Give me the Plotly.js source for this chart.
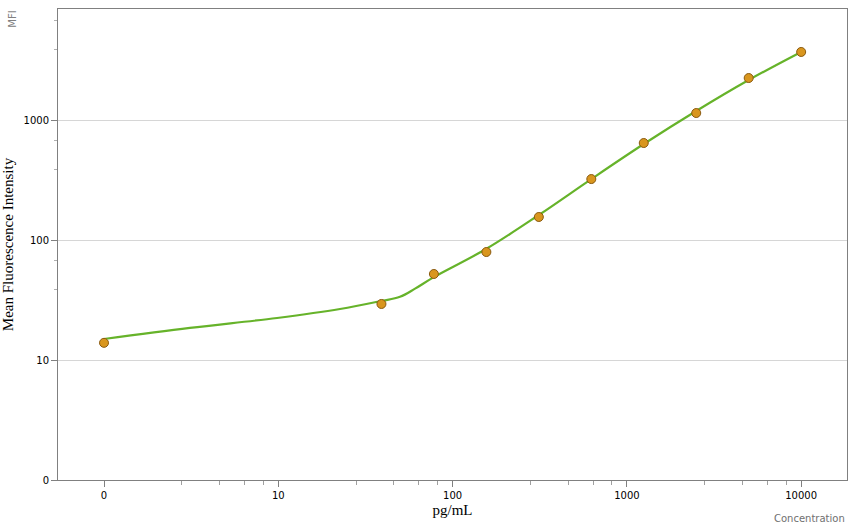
<!DOCTYPE html>
<html>
<head>
<meta charset="utf-8">
<script src="https://cdn.plot.ly/plotly-3.0.1.min.js"></script>
<style>html,body{margin:0;padding:0;background:#fff;}#chart{width:855px;height:527px;}</style>
</head>
<body>
<div id="chart"></div>
<script>
// Standards (concentration 0 is drawn at the "0" position, value 1 on the log axis)
const standardConc = [1, 39.0625, 78.125, 156.25, 312.5, 625, 1250, 2500, 5000, 10000];
const standardMFI  = [13.9, 29.3, 52.1, 79.4, 155.5, 322, 643, 1143, 2238, 3690];

// Fitted curve
const curveConc = [1, 3.11, 9.84, 22.6, 38.8, 49.9, 60.9, 77.2, 155.6, 312.5, 625, 1250, 2500, 5000, 10000];
const curveMFI  = [14.96, 18.5, 22.4, 26.6, 31.0, 33.6, 39.3, 48.6, 84.1, 161.6, 322, 631, 1189, 2154, 3690];

const xTickVals = [1, 10, 100, 1000, 10000];
const xTickText = ["0", "10", "100", "1000", "10000"];
const yTickVals = [1, 10, 100, 1000];
const yTickText = ["0", "10", "100", "1000"];
const xMinorVals = [2.8, 4.6, 6.4, 8.2, 28, 46, 64, 82, 280, 460, 640, 820, 2800, 4600, 6400, 8200];
const yMinorVals = [39, 68, 390, 680, 3900, 6800];

const tickFont = {family: "DejaVu Sans, Verdana, sans-serif", size: 10, color: "#000"};

const traces = [
  {
    x: curveConc, y: curveMFI, type: "scatter", mode: "lines",
    line: {color: "#66b32a", width: 2.2, shape: "spline", smoothing: 1},
    hoverinfo: "skip", showlegend: false
  },
  {
    x: standardConc, y: standardMFI, type: "scatter", mode: "markers",
    marker: {color: "#d9961e", size: 9, line: {color: "#8a5a10", width: 1}},
    showlegend: false
  }
];

const layout = {
  width: 855, height: 527,
  margin: {l: 58, r: 8, t: 9, b: 47},
  paper_bgcolor: "#fff", plot_bgcolor: "#fff",
  xaxis: {
    type: "log", range: [-0.264, 4.263],
    tickmode: "array", tickvals: xTickVals, ticktext: xTickText,
    ticks: "outside", ticklen: 6, tickcolor: "#808080", tickwidth: 1,
    minor: {tickmode: "array", tickvals: xMinorVals, ticks: "outside", ticklen: 4, tickcolor: "#a0a0a0", showgrid: false},
    showgrid: false, zeroline: false,
    showline: true, linecolor: "#808080", linewidth: 1, mirror: true,
    tickfont: tickFont,
    title: {text: "pg/mL", font: {family: "Liberation Serif, Times New Roman, serif", size: 15, color: "#000"}, standoff: 4}
  },
  yaxis: {
    type: "log", range: [0, 3.925],
    tickmode: "array", tickvals: yTickVals, ticktext: yTickText,
    ticks: "outside", ticklen: 6, tickcolor: "#808080", tickwidth: 1,
    minor: {tickmode: "array", tickvals: yMinorVals, ticks: "outside", ticklen: 3, tickcolor: "#b0b0b0", showgrid: false},
    showgrid: true, gridcolor: "#d6d6d6", gridwidth: 1, zeroline: false,
    showline: true, linecolor: "#808080", linewidth: 1, mirror: true,
    tickfont: tickFont,
    title: {text: "Mean Fluorescence Intensity", font: {family: "Liberation Serif, Times New Roman, serif", size: 15, color: "#000"}, standoff: 10}
  },
  annotations: [
    {text: "MFI", xref: "paper", yref: "paper", x: -0.058, y: 1.0, xanchor: "center", yanchor: "top",
     textangle: -90, showarrow: false, font: {family: "DejaVu Sans, Verdana, sans-serif", size: 10, color: "#808080"}},
    {text: "Concentration", xref: "paper", yref: "paper", x: 1.0, y: -0.065, xanchor: "right", yanchor: "top",
     showarrow: false, font: {family: "DejaVu Sans, Verdana, sans-serif", size: 10, color: "#707070"}}
  ]
};

Plotly.newPlot("chart", traces, layout, {staticPlot: true, displayModeBar: false});
</script>
</body>
</html>
